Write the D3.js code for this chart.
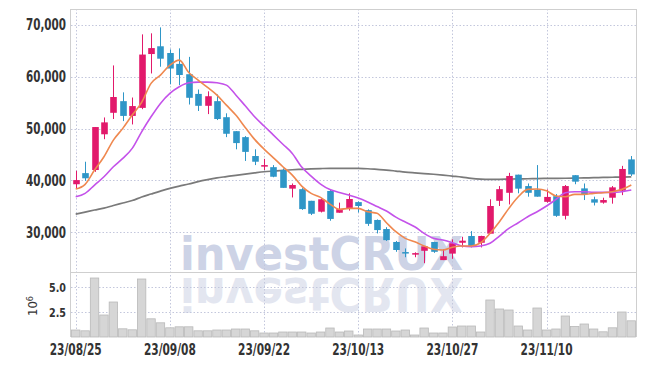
<!DOCTYPE html>
<html>
<head>
<meta charset="utf-8">
<script src="https://cdn.jsdelivr.net/npm/d3@7/dist/d3.min.js"></script>
<style>
    body { margin: 0; background: #fff; }
    svg text { font-family: "DejaVu Sans Condensed", "DejaVu Sans", sans-serif; }
</style>
</head>
<body>
<svg id="chart" width="645" height="366"></svg>
<script>
let dates = ['23/08/25', '23/08/28', '23/08/29', '23/08/30', '23/08/31', '23/09/01', '23/09/04', '23/09/05', '23/09/06', '23/09/07',
    '23/09/08', '23/09/11', '23/09/12', '23/09/13', '23/09/14', '23/09/15', '23/09/18', '23/09/19', '23/09/20', '23/09/21',
    '23/09/22', '23/09/25', '23/09/26', '23/09/27', '23/10/04', '23/10/05', '23/10/06', '23/10/10', '23/10/11', '23/10/12',
    '23/10/13', '23/10/16', '23/10/17', '23/10/18', '23/10/19', '23/10/20', '23/10/23', '23/10/24', '23/10/25', '23/10/26',
    '23/10/27', '23/10/30', '23/10/31', '23/11/01', '23/11/02', '23/11/03', '23/11/06', '23/11/07', '23/11/08', '23/11/09',
    '23/11/10', '23/11/13', '23/11/14', '23/11/15', '23/11/16', '23/11/17', '23/11/20', '23/11/21', '23/11/22', '23/11/23'];

let open = [39250, 41400, 42000, 48900, 53050, 55300, 52450, 54000, 64400, 65900,
    64600, 62500, 60500, 56700, 54400, 55300, 52200, 49500, 48350, 44700,
    42650, 42550, 42000, 38400, 38300, 36050, 33950, 37950, 33750, 34600,
    35800, 34250, 32350, 30600, 28100, 26150, 25650, 26400, 28100, 24600,
    25850, 27950, 29250, 27950, 29700, 36050, 37600, 41100, 38900, 38150,
    35850, 36950, 33150, 41000, 38450, 36350, 35700, 36650, 38000, 44050];
let close = [40050, 40400, 50300, 51200, 56100, 52450, 54350, 64300, 65550, 63500,
    61600, 60350, 55950, 54400, 56250, 51850, 49000, 47200, 45500, 43600,
    42950, 40700, 38550, 39100, 34450, 33550, 36350, 32550, 34450, 36400,
    35050, 31600, 30400, 28450, 26550, 25900, 25950, 27250, 26200, 25350,
    27850, 28350, 27300, 29250, 35050, 38300, 40850, 38400, 37600, 36850,
    36800, 33150, 38900, 39750, 37300, 35700, 36200, 38650, 42200, 41150];
let high = [41850, 43600, 50300, 52150, 62200, 57000, 56000, 68200, 68400, 69550,
    65300, 65500, 63850, 57550, 57200, 56600, 52950, 49500, 48550, 46000,
    44150, 42950, 42300, 39400, 38500, 36050, 36500, 38150, 35700, 37500,
    35950, 34400, 32450, 30950, 28300, 26850, 26100, 27300, 28150, 26700,
    28600, 29100, 30200, 29300, 36350, 38900, 41450, 41100, 39400, 42950,
    38250, 37350, 39100, 41000, 39400, 36850, 36650, 38900, 42800, 44700];
let low = [38450, 39900, 41650, 47950, 51850, 51450, 50800, 53750, 60650, 61950,
    58550, 58400, 54650, 53400, 52800, 51650, 48350, 46000, 43750, 42950,
    42000, 40600, 38550, 36700, 34300, 33300, 33800, 32200, 33750, 34150,
    33800, 31200, 29750, 28300, 26200, 25150, 25150, 24000, 26000, 24600,
    24850, 27050, 27050, 27050, 29650, 35050, 35350, 37500, 36850, 36850,
    35700, 32950, 32450, 39250, 36200, 35150, 35500, 35500, 37150, 40850];

// moving averages (they start before the first visible day)
let ma5 = [38320, 39230, 41990, 44560, 47780, 50040, 52610, 55060, 58730, 60330,
    62260, 63230, 60820, 59360, 57950, 56470, 54540, 52610, 50230, 47920,
    46040, 44360, 42630, 41020, 38900, 37490, 36720, 35420, 34400, 34590,
    34590, 33940, 33630, 31810, 30080, 28800, 28150, 27320, 26680, 26540,
    27070, 27320, 27320, 27950, 29770, 32010, 34590, 36830, 38260, 38320,
    37990, 36970, 36830, 37300, 37300, 37490, 37610, 37800, 38260, 39090];
let ma20 = [36830, 37490, 39090, 40690, 42630, 44250, 46180, 49380, 52280, 54870,
    56800, 58070, 58840, 58980, 58980, 58840, 58400, 56500, 54400, 52300,
    50500, 48750, 46970, 45210, 42570, 40830, 39290, 38220, 37650, 37160,
    36580, 35810, 34940, 34070, 32910, 31950, 31040, 29770, 28800, 28470,
    27950, 27320, 27180, 27320, 27840, 29250, 30730, 31810, 32970, 33940,
    35040, 36330, 37610, 37800, 37800, 37680, 37680, 37680, 37800, 38130];
let ma60 = [33490, 33880, 34270, 34650, 35140, 35620, 36100, 36780, 37360, 37930,
    38460, 38900, 39290, 39770, 40150, 40480, 40730, 40980, 41220, 41450,
    41660, 41800, 41930, 42050, 42140, 42220, 42280, 42320, 42320, 42320,
    42300, 42240, 42120, 41990, 41800, 41600, 41450, 41310, 41180, 41020,
    40830, 40640, 40390, 40250, 40210, 40210, 40250, 40290, 40310, 40350,
    40370, 40390, 40410, 40440, 40480, 40520, 40560, 40600, 40640, 40690];

// volume in millions of shares
let volume = [0.70, 0.62, 5.9, 2.2, 3.5, 0.82, 0.72, 5.8, 1.82, 1.42,
    0.92, 1.02, 1.02, 0.62, 0.62, 0.70, 0.70, 0.80, 0.80, 0.62,
    0.40, 0.40, 0.50, 0.50, 0.50, 0.40, 0.50, 0.90, 0.50, 0.60,
    0.20, 0.80, 0.80, 0.80, 0.60, 0.70, 0.20, 0.90, 0.40, 0.40,
    1.00, 1.10, 1.10, 0.50, 3.70, 2.80, 2.70, 1.10, 0.70, 2.90,
    0.70, 0.80, 2.10, 1.05, 1.30, 0.80, 0.52, 0.92, 2.50, 1.62];

let priceTicks = [30000, 40000, 50000, 60000, 70000];
let volumeTicks = [2.5, 5.0];
let dateTicks = ['23/08/25', '23/09/08', '23/09/22', '23/10/13', '23/10/27', '23/11/10'];

let upColor = '#e2196b';
let downColor = '#2f96c7';
let gridColor = '#c3c7dc';
let frameColor = '#cfcfcf';

let plotLeft = 71, plotRight = 636, plotTop = 9, plotSplit = 272, plotBottom = 337;

let svg = d3.select('#chart');

let x = d3.scaleBand().domain(dates).range([plotLeft, plotRight]).padding(0);
let y = d3.scaleLinear().domain([22300, 73100]).range([plotSplit, plotTop]);
let yVol = d3.scaleLinear().domain([0, 6.5]).range([plotBottom, plotSplit]);

let bw = x.bandwidth();
let cx = (d) => x(d) + bw / 2;

let candles = dates.map((d, i) => ({ date: d, o: open[i], c: close[i], h: high[i], l: low[i], v: volume[i] }));

// watermark + its reflection
let mark = svg.append('g')
    .style('font-family', '"DejaVu Sans", sans-serif')
    .style('font-weight', 'bold').style('font-size', '47px');
mark.append('text')
    .attr('x', 180).attr('y', 270)
    .attr('textLength', 283).attr('lengthAdjust', 'spacingAndGlyphs')
    .attr('fill', '#cdd3e6')
    .text('investCRUX');
mark.append('text')
    .attr('transform', 'translate(0,' + (plotSplit * 2 + 4) + ') scale(1,-1)')
    .attr('x', 180).attr('y', 270)
    .attr('textLength', 283).attr('lengthAdjust', 'spacingAndGlyphs')
    .attr('fill', '#e3e6f0')
    .text('investCRUX');

// grid
let grid = svg.append('g')
    .attr('stroke', gridColor).attr('stroke-width', 1).attr('stroke-dasharray', '1.5,2');
grid.selectAll('.hp').data(priceTicks).enter().append('line')
    .attr('x1', plotLeft).attr('x2', plotRight)
    .attr('y1', (d) => Math.round(y(d)) + 0.5).attr('y2', (d) => Math.round(y(d)) + 0.5);
grid.selectAll('.hv').data(volumeTicks).enter().append('line')
    .attr('x1', plotLeft).attr('x2', plotRight)
    .attr('y1', (d) => Math.round(yVol(d)) + 0.5).attr('y2', (d) => Math.round(yVol(d)) + 0.5);
grid.selectAll('.vx').data(dateTicks).enter().append('line')
    .attr('x1', (d) => Math.round(cx(d)) + 0.5).attr('x2', (d) => Math.round(cx(d)) + 0.5)
    .attr('y1', plotTop).attr('y2', plotBottom);

// frame
let frame = svg.append('g').attr('stroke', frameColor).attr('stroke-width', 1).attr('fill', 'none');
frame.append('line').attr('x1', plotLeft).attr('x2', plotRight + 0.5).attr('y1', plotTop + 0.5).attr('y2', plotTop + 0.5);
frame.append('line').attr('x1', plotRight + 0.5).attr('x2', plotRight + 0.5).attr('y1', plotTop).attr('y2', plotBottom);
frame.append('line').attr('x1', plotLeft - 0.5).attr('x2', plotLeft - 0.5).attr('y1', plotTop).attr('y2', plotBottom);
frame.append('line').attr('x1', plotLeft).attr('x2', plotRight).attr('y1', plotSplit + 0.5).attr('y2', plotSplit + 0.5);

// volume bars
svg.append('g').selectAll('rect').data(candles).enter().append('rect')
    .attr('x', (d) => x(d.date) + 0.5)
    .attr('width', bw - 1)
    .attr('y', (d) => yVol(d.v))
    .attr('height', (d) => yVol(0) - yVol(d.v))
    .attr('fill', '#d6d6d6')
    .attr('stroke', '#b9b9b9')
    .attr('stroke-width', 0.8);

// moving averages
let maLine = (values) => d3.line()
    .x((d, i) => cx(dates[i]))
    .y((d) => y(d))
    .curve(d3.curveMonotoneX)(values);

svg.append('path').attr('d', maLine(ma60))
    .attr('fill', 'none').attr('stroke', '#7a7a7a').attr('stroke-width', 1.7);

// candles
let candle = svg.append('g').selectAll('g').data(candles).enter().append('g')
    .attr('fill', (d) => d.c >= d.o ? upColor : downColor)
    .attr('stroke', (d) => d.c >= d.o ? upColor : downColor);

candle.append('line')
    .attr('x1', (d) => Math.round(cx(d.date)) + 0.5)
    .attr('x2', (d) => Math.round(cx(d.date)) + 0.5)
    .attr('y1', (d) => y(d.h))
    .attr('y2', (d) => y(d.l))
    .attr('stroke-width', 1);

candle.append('rect')
    .attr('x', (d) => Math.round(cx(d.date)) + 0.5 - 3.3)
    .attr('width', 6.6)
    .attr('y', (d) => y(Math.max(d.o, d.c)))
    .attr('height', (d) => Math.max(1.5, Math.abs(y(d.o) - y(d.c))))
    .attr('stroke', 'none');

svg.append('path').attr('d', maLine(ma20))
    .attr('fill', 'none').attr('stroke', '#c452ea').attr('stroke-width', 1.6);
svg.append('path').attr('d', maLine(ma5))
    .attr('fill', 'none').attr('stroke', '#ef884f').attr('stroke-width', 1.6);

// axes labels (bold, squeezed to the narrow widths of the reference)
let labels = svg.append('g').attr('fill', '#333').style('font-weight', 'bold').style('font-size', '15px');

labels.selectAll('.py').data(priceTicks).enter().append('text')
    .attr('x', 66).attr('y', (d) => y(d)).attr('dy', '0.36em')
    .attr('text-anchor', 'end')
    .attr('textLength', 40).attr('lengthAdjust', 'spacingAndGlyphs')
    .text((d) => d3.format(',')(d));

labels.selectAll('.vy').data(volumeTicks).enter().append('text')
    .attr('x', 66).attr('y', (d) => yVol(d)).attr('dy', '0.36em')
    .attr('text-anchor', 'end')
    .attr('textLength', 17).attr('lengthAdjust', 'spacingAndGlyphs')
    .style('font-size', '13px')
    .text((d) => d3.format('.1f')(d));

labels.selectAll('.xd').data(dateTicks).enter().append('text')
    .attr('x', (d) => cx(d)).attr('y', 355)
    .attr('text-anchor', 'middle')
    .attr('textLength', 52).attr('lengthAdjust', 'spacingAndGlyphs')
    .text((d) => d);

let unit = labels.append('text')
    .attr('transform', 'translate(37,306) rotate(-90)')
    .attr('text-anchor', 'middle')
    .style('font-weight', 'normal')
    .style('font-size', '13px');
unit.append('tspan').text('10');
unit.append('tspan').attr('dy', '-0.45em').style('font-size', '9px').text('6');
</script>
</body>
</html>
